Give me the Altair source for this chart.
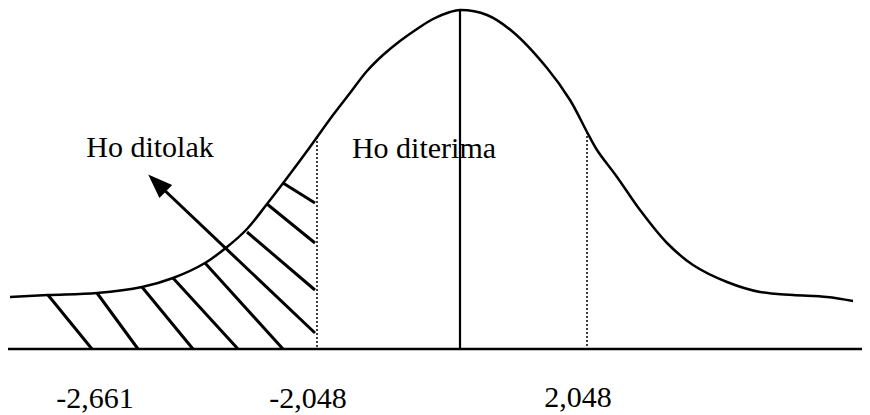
import altair as alt
import pandas as pd

# Curve (x position, height above baseline)
curve_x = [10, 48, 97, 142, 173, 205, 227, 247, 267, 287, 310, 333, 350, 367, 383, 400, 417, 433,
           450, 460, 487, 513, 547, 570, 587, 597, 617, 640, 667, 693, 727, 760, 793, 827, 853]
curve_h = [52, 54, 56, 62, 71, 86, 102, 120, 145, 171, 202, 234, 256, 278, 294, 308, 320, 330,
           337, 339, 334, 317, 281, 249, 217, 199, 172, 139, 106, 84, 67, 57, 54, 52, 48]

# Hatch segments (start x, start h, end x, end h)
hatch_x1 = [48, 97, 142, 173, 205, 247, 267, 283]
hatch_h1 = [54, 56, 62, 71, 86, 117, 145, 166]
hatch_x2 = [92, 138, 193, 238, 283, 315, 315, 315]
hatch_h2 = [0, 0, 0, 0, 0, 59, 106, 146]

# Arrow (tail -> tip)
arrow_x = [315, 160]
arrow_h = [16, 163]

# Vertical lines
dotted_x = [317, 587]
dotted_top = [212, 217]
center_x = [460]
center_top = [339]

# Baseline
base_x = [7, 870]

# Texts
region_labels = ["Ho ditolak", "Ho diterima"]
region_x = [150, 424]
region_h = [192, 191]
tick_labels = ["-2,661", "-2,048", "2,048"]
tick_x = [95, 308, 578]
tick_h = [-59, -59, -58]

X = alt.Scale(domain=[8, 862], nice=False, zero=False)
Y = alt.Scale(domain=[-66, 341], nice=False, zero=False)

curve_df = pd.DataFrame({"x": curve_x, "h": curve_h})
hatch_df = pd.DataFrame({"x": hatch_x1, "h": hatch_h1, "x2": hatch_x2, "h2": hatch_h2})
arrow_df = pd.DataFrame({"x": [arrow_x[0]], "h": [arrow_h[0]], "x2": [arrow_x[1]], "h2": [arrow_h[1]]})
dotted_df = pd.DataFrame({"x": dotted_x, "top": dotted_top})
center_df = pd.DataFrame({"x": center_x, "top": center_top})
base_df = pd.DataFrame({"x": [base_x[0]], "x2": [base_x[1]], "h": [0]})
region_df = pd.DataFrame({"t": region_labels, "x": region_x, "h": region_h})
tick_df = pd.DataFrame({"t": tick_labels, "x": tick_x, "h": tick_h})
head_df = pd.DataFrame({"x": [arrow_x[1] - 3], "h": [arrow_h[1] + 3]})

curve = alt.Chart(curve_df).mark_line(color="black", strokeWidth=2.5, interpolate="catmull-rom").encode(
    x=alt.X("x:Q", scale=X, axis=None), y=alt.Y("h:Q", scale=Y, axis=None))

hatch = alt.Chart(hatch_df).mark_rule(color="black", strokeWidth=3).encode(
    x=alt.X("x:Q", scale=X, axis=None), y=alt.Y("h:Q", scale=Y, axis=None), x2="x2:Q", y2="h2:Q")

arrow = alt.Chart(arrow_df).mark_rule(color="black", strokeWidth=3).encode(
    x=alt.X("x:Q", scale=X, axis=None), y=alt.Y("h:Q", scale=Y, axis=None), x2="x2:Q", y2="h2:Q")

head = alt.Chart(head_df).mark_point(
    shape="M0,-1L0.75,1L-0.75,1Z", filled=True, color="black", opacity=1, size=600, angle=314
).encode(x=alt.X("x:Q", scale=X, axis=None), y=alt.Y("h:Q", scale=Y, axis=None))

dotted = alt.Chart(dotted_df).mark_rule(color="black", strokeWidth=1.5, strokeDash=[2, 2]).encode(
    x=alt.X("x:Q", scale=X, axis=None), y=alt.Y("top:Q", scale=Y, axis=None), y2=alt.datum(0))

center = alt.Chart(center_df).mark_rule(color="black", strokeWidth=2.2).encode(
    x=alt.X("x:Q", scale=X, axis=None), y=alt.Y("top:Q", scale=Y, axis=None), y2=alt.datum(0))

base = alt.Chart(base_df).mark_rule(color="black", strokeWidth=2.5).encode(
    x=alt.X("x:Q", scale=X, axis=None), x2="x2:Q", y=alt.Y("h:Q", scale=Y, axis=None))

region_text = alt.Chart(region_df).mark_text(
    font="Liberation Serif", fontSize=30, color="black", align="center", baseline="alphabetic"
).encode(x=alt.X("x:Q", scale=X, axis=None), y=alt.Y("h:Q", scale=Y, axis=None), text="t:N")

tick_text = alt.Chart(tick_df).mark_text(
    font="Liberation Serif", fontSize=30, color="black", align="center", baseline="alphabetic"
).encode(x=alt.X("x:Q", scale=X, axis=None), y=alt.Y("h:Q", scale=Y, axis=None), text="t:N")

chart = alt.layer(
    hatch, arrow, head, dotted, center, base, curve, region_text, tick_text
).properties(
    width=854, height=407, padding=0, background="white",
    autosize=alt.AutoSizeParams(type="none")
).configure_view(stroke=None)

chart.save("out.html", embed_options={"renderer": "svg", "actions": False})
